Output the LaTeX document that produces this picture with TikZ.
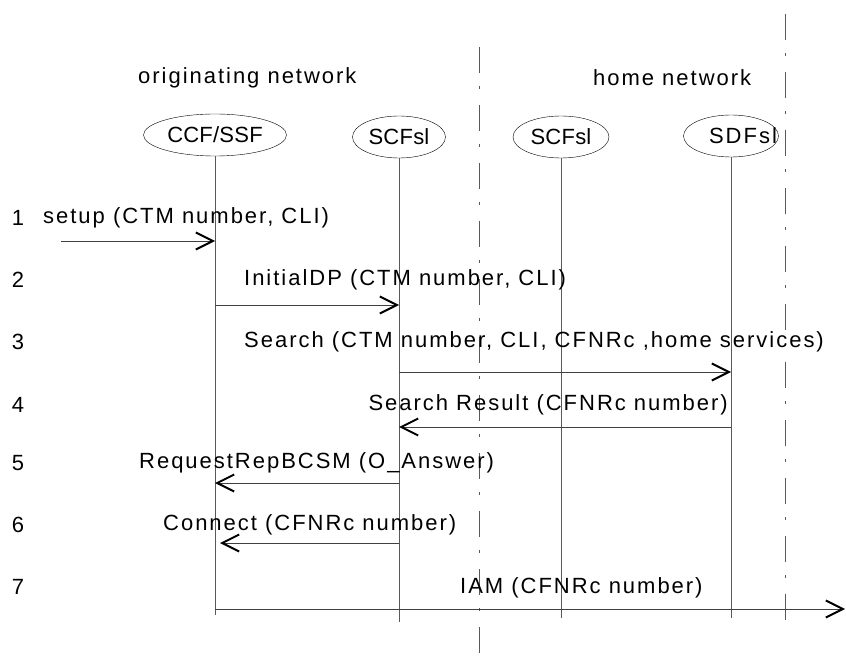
\documentclass[tikz,border=0pt]{standalone}
\usepackage{fontspec}
\setmainfont{Liberation Sans}[LetterSpace=9]
\usetikzlibrary{arrows.meta,shapes}

\begin{document}
\begin{tikzpicture}[x=1pt,y=-1pt,>={Straight Barb[length=17pt,width=17pt,line width'=2pt,color=black]},
        font=\fontsize{22}{26}\selectfont,
        actor/.style={ellipse,draw=black,thin,inner sep=0pt,minimum height=42pt,
          font=\fontsize{22}{26}\selectfont\addfontfeature{LetterSpace=1}},
        life/.style={draw=black!65,line width=0.7pt},
        border/.style={draw=black!65,line width=0.9pt,dash pattern=on 26pt off 13pt on 3pt off 16pt},
        msg/.style={->,draw=black!75,line width=0.8pt},
        txt/.style={anchor=west,inner sep=0pt}]
  \useasboundingbox (0,0) rectangle (846,660);
  % network borders
  \coordinate (b1top) at (479,47);
  \coordinate (b1bot) at (479,660);
  \coordinate (b2top) at (785,14);
  \coordinate (b2bot) at (785,633);
  \path (b1top) edge[border] (b1bot)
        (b2top) edge[border] (b2bot);
  \node[txt] (orig) at (138,78) {originating network};
  \node[txt] (home) at (593,78) {home network};
  % entities
  \node[actor,minimum width=143pt] (ccf) at (215,135) {CCF/SSF};
  \node[actor,minimum width=93pt]  (scf1) at (399,137) {SCFsl};
  \node[actor,minimum width=96pt]  (scf2) at (561,137) {SCFsl};
  \node[actor,minimum width=95pt,label={[xshift=12pt]center:SDFsl}] (sdf) at (731,136) {};
  \coordinate (ccfend) at (215,615);
  \coordinate (scf1end) at (399,622);
  \coordinate (scf2end) at (561,618);
  \coordinate (sdfend) at (731,618);
  \path (ccf) edge[life] (ccfend)
        (scf1) edge[life] (scf1end)
        (scf2) edge[life] (scf2end)
        (sdf) edge[life] (sdfend);
  % step numbers
  \foreach \n/\y in {1/218,2/280,3/342,4/405,5/463,6/525,7/587}
    \node (n\n) at (18,\y) {\n};
  % messages
  \coordinate (in) at (61,241);
  \coordinate (out) at (845,609);
  \foreach \m/\y in {1/241,2/305,3/372,4/427,5/483,6/543,7/609}
    \coordinate (m\m) at (0,\y);
  \path (in) edge[msg] (ccf |- m1)
        (ccf |- m2) edge[msg] (scf1 |- m2)
        (scf1 |- m3) edge[msg] (sdf |- m3)
        (sdf |- m4) edge[msg] (scf1 |- m4)
        (scf1 |- m5) edge[msg] (ccf |- m5)
        (scf1 |- m6) edge[msg,shorten >=5pt] (ccf |- m6)
        (ccf |- m7) edge[msg] (out);
  \node[txt] (l1) at (43,218) {setup (CTM number, CLI)};
  \node[txt] (l2) at (244,280) {InitialDP (CTM number, CLI)};
  \node[txt] (l3) at (244,342) {Search (CTM number, CLI, CFNRc ,home services)};
  \node[txt,anchor=east] (l4) at (728,405) {Search Result (CFNRc number)};
  \node[txt] (l5) at (139,463) {RequestRepBCSM (O\_Answer)};
  \node[txt] (l6) at (163,525) {Connect (CFNRc number)};
  \node[txt] (l7) at (460,588) {IAM (CFNRc number)};
\end{tikzpicture}
\end{document}
